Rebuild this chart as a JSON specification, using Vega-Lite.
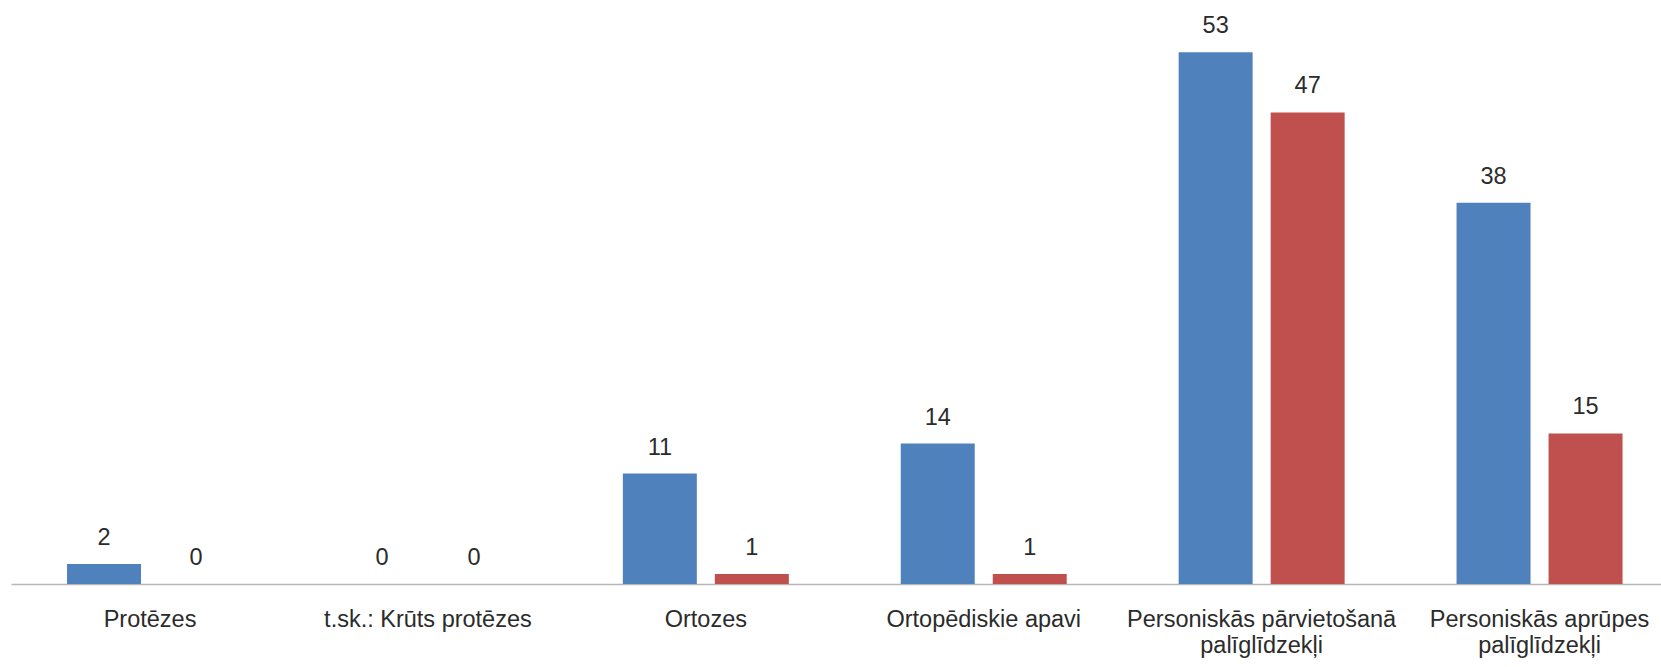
{
  "$schema": "https://vega.github.io/schema/vega-lite/v6.json",
  "width": 1650,
  "height": 582,
  "autosize": "none",
  "padding": {"left": 11, "top": 2, "right": 0, "bottom": 83},
  "background": "white",
  "config": {"view": {"stroke": null}, "font": "Liberation Sans"},
  "data": {
    "values": [
      {"category": "Protēzes", "series": "A", "value": 2},
      {"category": "Protēzes", "series": "B", "value": 0},
      {"category": "t.sk.: Krūts protēzes", "series": "A", "value": 0},
      {"category": "t.sk.: Krūts protēzes", "series": "B", "value": 0},
      {"category": "Ortozes", "series": "A", "value": 11},
      {"category": "Ortozes", "series": "B", "value": 1},
      {"category": "Ortopēdiskie apavi", "series": "A", "value": 14},
      {"category": "Ortopēdiskie apavi", "series": "B", "value": 1},
      {"category": "Personiskās pārvietošanā palīglīdzekļi", "series": "A", "value": 53},
      {"category": "Personiskās pārvietošanā palīglīdzekļi", "series": "B", "value": 47},
      {"category": "Personiskās aprūpes palīglīdzekļi", "series": "A", "value": 38},
      {"category": "Personiskās aprūpes palīglīdzekļi", "series": "B", "value": 15}
    ]
  },
  "encoding": {
    "x": {
      "field": "category",
      "type": "nominal",
      "sort": null,
      "scale": {"paddingInner": 0.4027, "paddingOuter": 0.17, "align": 0.593},
      "axis": {
        "title": null,
        "labelAngle": 0,
        "ticks": false,
        "tickSize": 0,
        "domainColor": "#B8B8B8",
        "domainWidth": 1.5,
        "labelFont": "Liberation Sans",
        "labelFontSize": 23.5,
        "labelColor": "#2b2b2b",
        "labelPadding": 42,
        "labelBaseline": "alphabetic",
        "labelLineHeight": 26,
        "labelLimit": 400,
        "labelExpr": "length(datum.label) > 25 ? [slice(datum.label, 0, lastindexof(datum.label, ' ')), slice(datum.label, lastindexof(datum.label, ' ') + 1)] : datum.label"
      }
    },
    "xOffset": {
      "field": "series",
      "type": "nominal",
      "scale": {"paddingInner": 0.196, "paddingOuter": 0}
    },
    "y": {
      "field": "value",
      "type": "quantitative",
      "scale": {"domain": [0, 58], "nice": false},
      "axis": null
    }
  },
  "layer": [
    {
      "mark": {"type": "bar"},
      "encoding": {
        "color": {
          "field": "series",
          "type": "nominal",
          "scale": {"domain": ["A", "B"], "range": ["#4F81BD", "#C0504D"]},
          "legend": null
        }
      }
    },
    {
      "mark": {
        "type": "text",
        "baseline": "alphabetic",
        "dy": -19,
        "font": "Liberation Sans",
        "fontSize": 23.5,
        "color": "#2b2b2b"
      },
      "encoding": {"text": {"field": "value", "type": "quantitative"}}
    }
  ]
}
